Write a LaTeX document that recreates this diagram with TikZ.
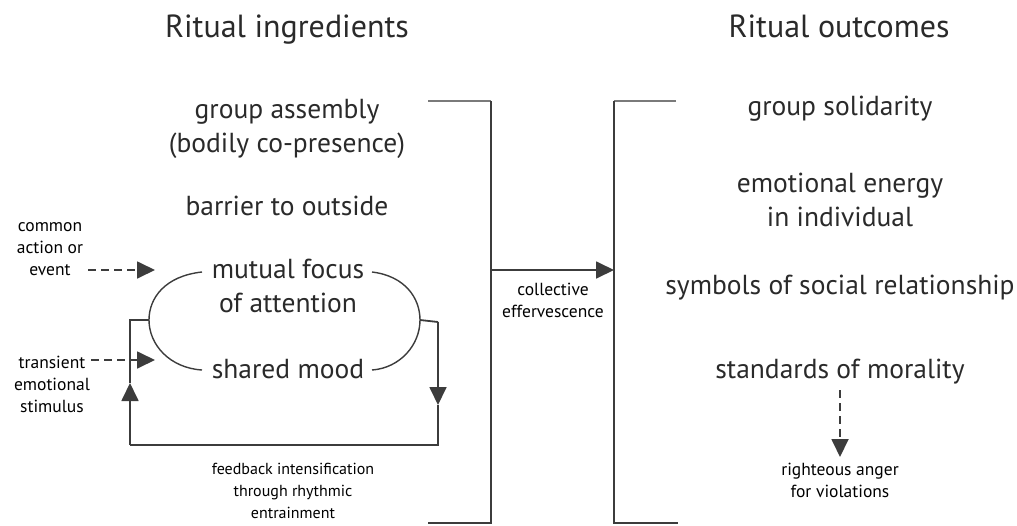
\documentclass[tikz,border=0pt]{standalone}
\usepackage{fontspec}
\setmainfont{PT Sans}
\usetikzlibrary{arrows.meta}

\definecolor{linegray}{HTML}{3C3C3C}
\definecolor{capgray}{HTML}{7A7A7A}
\definecolor{txtgray}{HTML}{2A2A2A}

\newcommand{\headsize}{\fontsize{32}{36}\selectfont}
\newcommand{\bodysize}{\fontsize{27.5}{34}\selectfont}
\newcommand{\smallsize}{\fontsize{17.5}{22}\selectfont}

\tikzset{
  head/.style={anchor=base,text=txtgray,font=\headsize,inner sep=0pt},
  item/.style={anchor=base,text=txtgray,font=\bodysize,align=center,inner sep=0pt},
  note/.style={anchor=base,text=black,font=\smallsize,align=center,inner sep=0pt},
  wire/.style={draw=linegray,line width=1.8pt},
  capline/.style={draw=capgray,line width=2.8pt},
  arrowtip/.style={-{Triangle[length=18pt,width=17pt]}},
  dasharrow/.style={wire,dash pattern=on 8pt off 5pt,-{Triangle[length=18pt,width=17pt]}}
}

\begin{document}
\begin{tikzpicture}[x=1pt,y=-1pt]
    \useasboundingbox (0,0) rectangle (1017,525);
    % headings
    \node[head] (hIngr) at (287,37) {Ritual ingredients};
    \node[head] (hOutc) at (839,37) {Ritual outcomes};
    % ingredients (base = last line)
    \node[item] (assembly) at (287,152) {group assembly\\(bodily co-presence)};
    \node[item] (barrier) at (287,215) {barrier to outside};
    \node[item] (focus) at (288,312) {mutual focus\\of attention};
    \node[item] (mood) at (288,378) {shared mood};
    % outcomes
    \node[item] (solid) at (840,115) {group solidarity};
    \node[item] (energy) at (840,226) {emotional energy\\in individual};
    \node[item] (symbols) at (840,294) {symbols of social relationship};
    \node[item] (morality) at (840,378) {standards of morality};
    \node[note] (anger) at (840,497) {righteous anger\\for violations};
    % small notes
    \node[note] (common) at (50,275) {common\\action or\\event};
    \node[note] (transient) at (52,412) {transient\\emotional\\stimulus};
    \node[note,font=\fontsize{16}{22}\selectfont] (feedback) at (293,518) {feedback intensification\\through rhythmic\\entrainment};
    \node[note] (effer) at (553,317) {collective\\effervescence};

    % brackets
    \coordinate (lTop) at (491,101);
    \coordinate (lBot) at (491,523);
    \coordinate (rTop) at (614,101);
    \coordinate (rBot) at (614,523);
    \coordinate (lMid) at (491,270);
    \coordinate (rMid) at (614,270);
    \draw[capline] (428,101) -- (lTop);
    \draw[capline] (676,101) -- (rTop);
    \draw[wire] (lTop) -- (lBot) -- (428,523);
    \draw[wire] (rTop) -- (rBot) -- (678,523);
    \draw[wire,arrowtip] (lMid) -- (rMid);

    % the rounded frame round focus and mood
    \coordinate (sL) at (149,320);
    \coordinate (sR) at (420,320);
    \draw[draw=linegray,line width=1.4pt]
        (202,272) .. controls (165,276) and (149,298) .. (sL)
        .. controls (149,345) and (170,368) .. (202,370);
    \draw[draw=linegray,line width=1.4pt]
        (372,272) .. controls (405,276) and (420,298) .. (sR)
        .. controls (420,345) and (400,368) .. (372,370);

    % feedback loop
    \coordinate (fTL) at (130,320);
    \coordinate (fBL) at (130,445);
    \coordinate (fBR) at (438,445);
    \coordinate (fTR) at (438,322);
    \coordinate (upTip) at (130,383);
    \coordinate (dnTip) at (438,405);
    \draw[wire] (sR) -- (fTR);
    \draw[wire,arrowtip] (fTR) -- (dnTip);
    \draw[wire] (dnTip) -- (fBR) -- (fBL);
    \draw[wire,arrowtip] (fBL) -- (upTip);
    \draw[wire] (upTip) -- (fTL) -- (sL);

    % outside inputs
    \coordinate (cFrom) at (88,270);
    \coordinate (cTo) at (155,270);
    \coordinate (tFrom) at (91,360);
    \coordinate (tTo) at (155,360);
    \coordinate (mFrom) at (840,390);
    \coordinate (mTo) at (840,457);
    \draw[dasharrow] (cFrom) -- (cTo);
    \draw[dasharrow] (tFrom) -- (tTo);
    \draw[dasharrow] (mFrom) -- (mTo);
\end{tikzpicture}
\end{document}
